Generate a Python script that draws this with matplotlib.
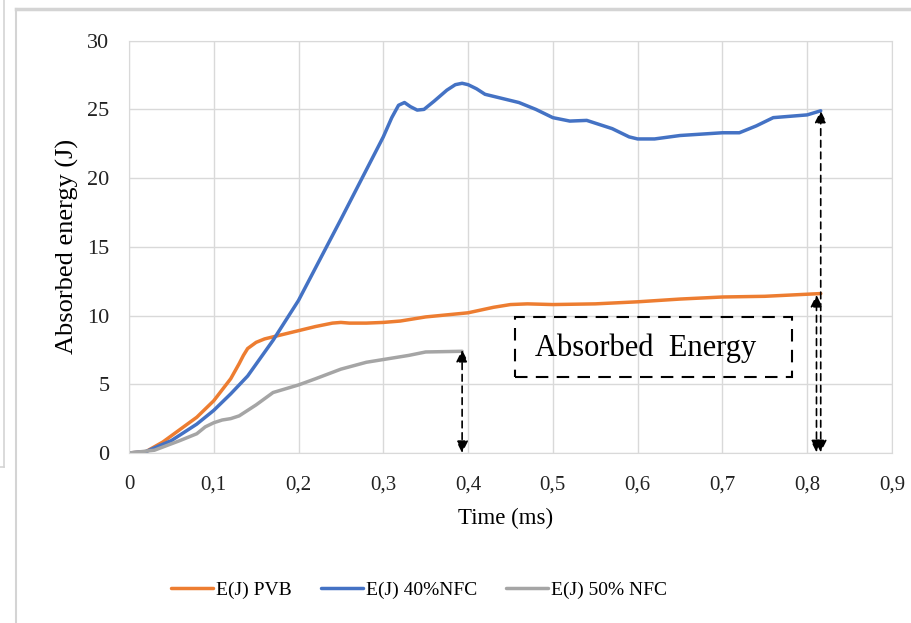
import matplotlib
matplotlib.use("Agg")
import matplotlib.pyplot as plt
from matplotlib.lines import Line2D
from matplotlib.patches import Rectangle

# values
t_pvb = [0, 0.02, 0.04, 0.06, 0.08, 0.10, 0.12, 0.13, 0.135, 0.14, 0.15, 0.16, 0.18, 0.20,
         0.22, 0.24, 0.25, 0.26, 0.28, 0.30, 0.32, 0.35, 0.40, 0.43, 0.45, 0.47, 0.50,
         0.55, 0.60, 0.65, 0.70, 0.75, 0.816]
e_pvb = [0, 0.1, 0.8, 1.7, 2.6, 3.8, 5.4, 6.5, 7.1, 7.6, 8.05, 8.3, 8.6, 8.9,
         9.2, 9.45, 9.5, 9.45, 9.45, 9.5, 9.6, 9.9, 10.2, 10.6, 10.8, 10.85, 10.8,
         10.85, 11.0, 11.2, 11.35, 11.4, 11.6]

t_40 = [0, 0.02, 0.05, 0.08, 0.10, 0.12, 0.14, 0.17, 0.20, 0.25, 0.30, 0.31, 0.318,
        0.325, 0.332, 0.34, 0.348, 0.36, 0.375, 0.385, 0.393, 0.40, 0.41, 0.42, 0.44,
        0.46, 0.48, 0.50, 0.52, 0.54, 0.57, 0.59, 0.60, 0.62, 0.65, 0.70, 0.72,
        0.74, 0.76, 0.78, 0.80, 0.816]
e_40 = [0, 0.1, 0.9, 2.1, 3.1, 4.3, 5.6, 8.2, 11.1, 17.0, 23.0, 24.4, 25.3,
        25.5, 25.2, 24.95, 25.0, 25.6, 26.4, 26.8, 26.9, 26.8, 26.5, 26.1, 25.8,
        25.5, 25.0, 24.4, 24.15, 24.2, 23.6, 23.0, 22.85, 22.85, 23.1, 23.3, 23.3,
        23.8, 24.4, 24.5, 24.6, 24.9]

t_50 = [0, 0.03, 0.06, 0.08, 0.09, 0.10, 0.11, 0.12, 0.13, 0.15, 0.17, 0.20,
        0.22, 0.25, 0.28, 0.30, 0.33, 0.35, 0.393]
e_50 = [0, 0.2, 0.9, 1.4, 1.9, 2.2, 2.4, 2.5, 2.7, 3.5, 4.4, 4.95,
        5.4, 6.1, 6.6, 6.8, 7.1, 7.35, 7.4]

x_ticks = [0, 0.1, 0.2, 0.3, 0.4, 0.5, 0.6, 0.7, 0.8, 0.9]
x_tick_labels = ["0", "0,1", "0,2", "0,3", "0,4", "0,5", "0,6", "0,7", "0,8", "0,9"]
y_ticks = [0, 5, 10, 15, 20, 25, 30]

# arrows: (x, top, bottom)
arrows = [(0.393, 7.5, 0.0), (0.811, 11.5, 0.05), (0.816, 24.9, 0.05)]

plt.rcParams["font.family"] = ["Liberation Serif", "DejaVu Serif"]

fig = plt.figure(figsize=(9.12, 6.23), dpi=100)
ax = fig.add_axes([0.1414, 0.2729, 0.8366, 0.6618])

ax.plot(t_pvb, e_pvb, color="#ED7D31", lw=2.5, label="E(J) PVB",
        solid_capstyle="round", solid_joinstyle="round")
ax.plot(t_40, e_40, color="#4472C4", lw=2.5, label="E(J) 40%NFC",
        solid_capstyle="round", solid_joinstyle="round")
ax.plot(t_50, e_50, color="#A5A5A5", lw=2.5, label="E(J) 50% NFC",
        solid_capstyle="round", solid_joinstyle="round")

ax.set_xlim(0, 0.9)
ax.set_ylim(0, 30)
ax.set_xticks(x_ticks)
ax.set_xticklabels(x_tick_labels)
ax.set_yticks(y_ticks)
ax.grid(True, color="#d9d9d9", lw=1)
ax.set_axisbelow(True)
for s in ax.spines.values():
    s.set_color("#d9d9d9")
ax.tick_params(length=0, labelsize=15, colors="#222222", pad=16)
ax.tick_params(axis="y", pad=14, labelsize=16)

ax.set_xlabel("Time (ms)", fontsize=16.5, va="center")
ax.set_ylabel("Absorbed energy (J)", fontsize=19, va="center")
ax.xaxis.set_label_coords(0.494, -0.16)
ax.yaxis.set_label_coords(-0.08, 0.5)

for x, top, bot in arrows:
    ax.annotate("", xy=(x, top), xytext=(x, bot),
                arrowprops=dict(arrowstyle="<|-|>", color="black", lw=1.2,
                                linestyle=(0, (4, 3)), mutation_scale=18,
                                shrinkA=0, shrinkB=0))

# dashed text box
box = Rectangle((515 / 912, 1 - 377 / 623), (792 - 515) / 912, 60 / 623,
                transform=fig.transFigure, fill=False, ec="black", lw=1.5,
                linestyle=(0, (6, 4)))
fig.patches.append(box)
fig.text(646 / 912, 1 - 348 / 623, "Absorbed  Energy", fontsize=22,
         ha="center", va="center")

leg = fig.legend(loc="center", bbox_to_anchor=(419 / 912, 1 - 590 / 623), ncol=3,
                 frameon=False, fontsize=14, handlelength=2.15, columnspacing=1.5,
                 handletextpad=0.15)

# outer frame lines from the screenshot
fig.add_artist(Line2D([16 / 912, 1], [1 - 9 / 623, 1 - 9 / 623], color="#d4d4d4", lw=2.5,
                      transform=fig.transFigure))
fig.add_artist(Line2D([16 / 912, 16 / 912], [0, 1 - 9 / 623], color="#d4d4d4", lw=1.5,
                      transform=fig.transFigure))
fig.add_artist(Line2D([4 / 912, 4 / 912], [1 - 467 / 623, 1], color="#d4d4d4", lw=1.2,
                      transform=fig.transFigure))
fig.add_artist(Line2D([0, 4 / 912], [1 - 467 / 623, 1 - 467 / 623], color="#d4d4d4", lw=1.2,
                      transform=fig.transFigure))

fig.savefig("out.png", dpi=100)
